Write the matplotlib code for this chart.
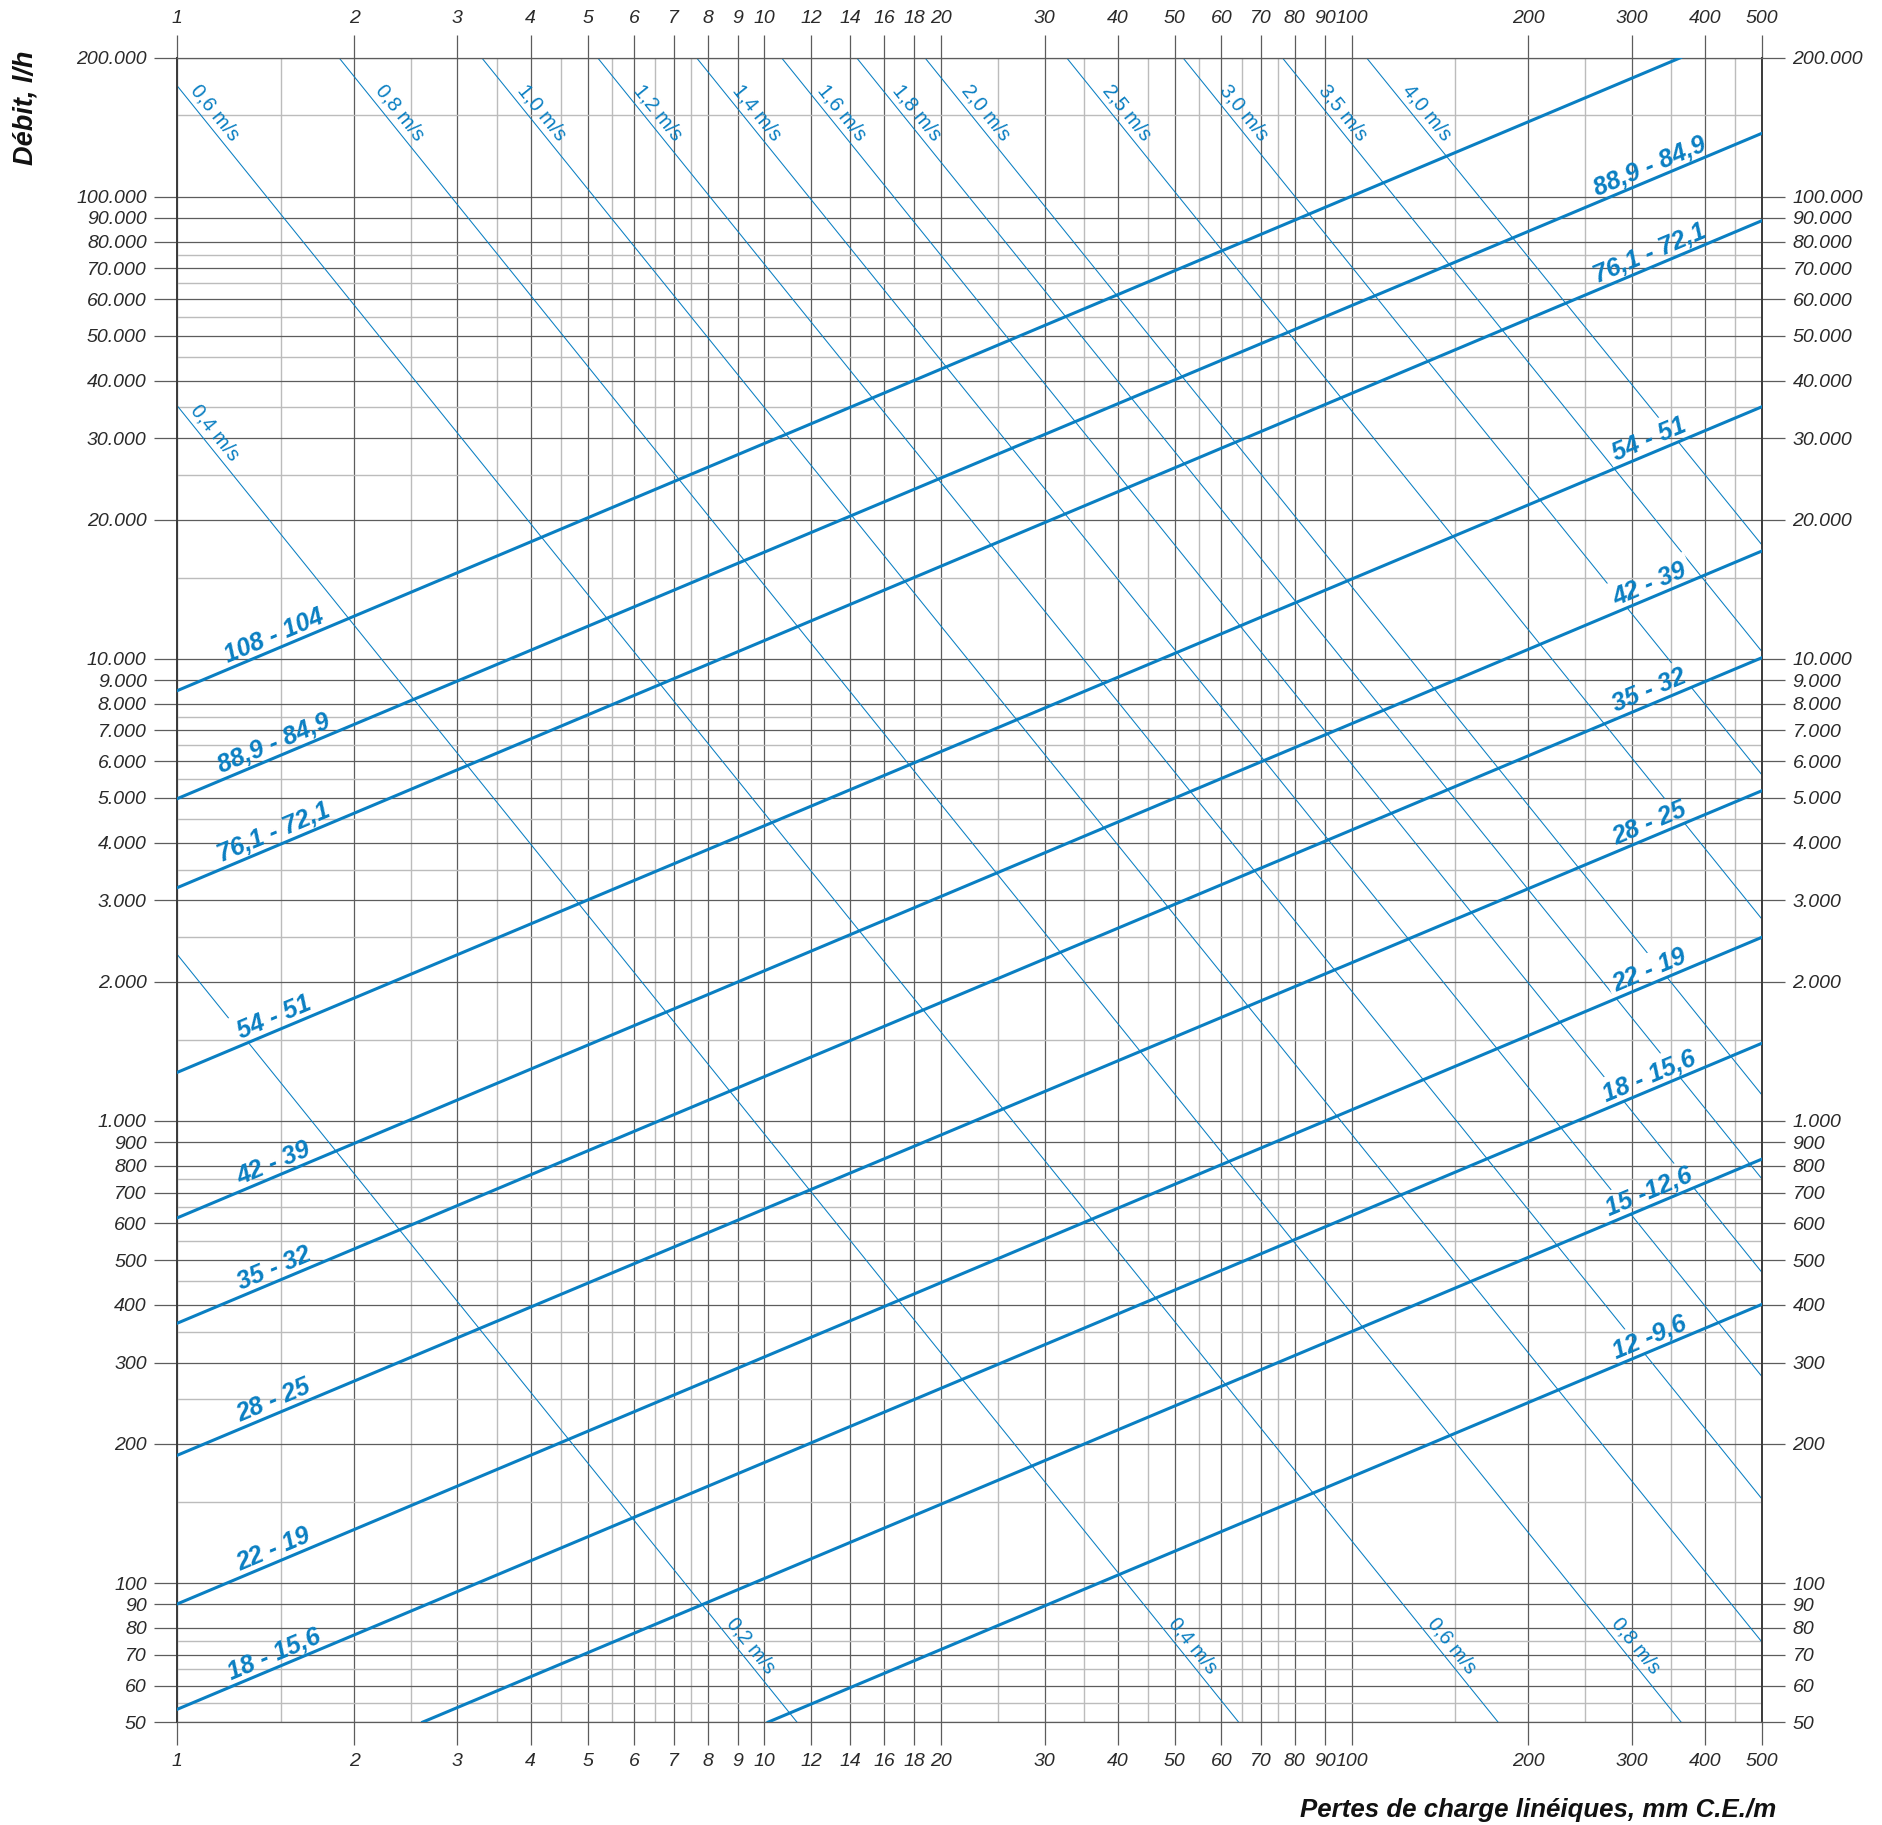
import math
import numpy as np
import matplotlib
matplotlib.use("Agg")
import matplotlib.pyplot as plt
from matplotlib import font_manager
from matplotlib.ticker import NullFormatter
from matplotlib.path import Path
from matplotlib.transforms import IdentityTransform

# Axis ticks: pressure loss (mm C.E./m) on x, flow (l/h) on y
x_major = [1, 2, 3, 4, 5, 6, 7, 8, 9, 10, 12, 14, 16, 18, 20, 30, 40, 50, 60, 70,
           80, 90, 100, 200, 300, 400, 500]
x_minor = [1.5, 2.5, 3.5, 4.5, 5.5, 6.5, 7.5, 25, 35, 45, 55, 65, 75,
           150, 250, 350, 450]
y_major = [50, 60, 70, 80, 90, 100, 200, 300, 400, 500, 600, 700, 800, 900,
           1000, 2000, 3000, 4000, 5000, 6000, 7000, 8000, 9000,
           10000, 20000, 30000, 40000, 50000, 60000, 70000, 80000, 90000,
           100000, 200000]
y_minor = [55, 65, 75, 150, 250, 350, 450, 550, 650, 750,
           1500, 2500, 3500, 4500, 5500, 6500, 7500,
           15000, 25000, 35000, 45000, 55000, 65000, 75000, 150000]

# Pipe sizes (outer - inner diameter, mm): flow at 1 and at 500 mm C.E./m
pipe_names = ["108 - 104", "88,9 - 84,9", "76,1 - 72,1", "54 - 51", "42 - 39",
              "35 - 32", "28 - 25", "22 - 19", "18 - 15,6", "15 -12,6", "12 -9,6"]
pipe_q1 = [8536, 4983, 3198, 1274, 617, 365, 189, 90.1, 53.3, 29.9, 14.5]
pipe_q500 = [237300, 137250, 88800, 35130, 17120, 10060, 5185, 2498, 1473, 827, 401]
pipe_label_left = [True, True, True, True, True, True, True, True, True, False, False]
pipe_label_right = [False, True, True, True, True, True, True, True, True, True, True]

# Velocity lines: entry and exit point (pressure loss, flow) of each line
vel_names = ["0,2 m/s", "0,4 m/s", "0,6 m/s", "0,8 m/s", "1,0 m/s", "1,2 m/s",
             "1,4 m/s", "1,6 m/s", "1,8 m/s", "2,0 m/s", "2,5 m/s", "3,0 m/s",
             "3,5 m/s", "4,0 m/s"]
vel_j_in = [1, 1, 1, 1.885, 3.299, 5.197, 7.66, 10.69, 14.35, 18.76, 32.7, 51.6, 76.2, 106.0]
vel_q_in = [2291, 35280, 173700, 200000, 200000, 200000, 200000, 200000, 200000,
            200000, 200000, 200000, 200000, 200000]
vel_j_out = [11.36, 64.2, 177.6, 364.1, 500, 500, 500, 500, 500, 500, 500, 500, 500, 500]
vel_q_out = [50, 50, 50, 50, 74.5, 152, 279.7, 470, 749, 1138, 2733, 5608, 10366, 17640]
# flow values along each line where its labels start
vel_label_q = [[80], [33700, 80], [166000, 80], [166000, 80]] + [[166000]] * 10

BLUE = "#0a7fc2"
MAJOR = "#5c5c5c"
MINOR = "#bcbcbc"

names = {f.name for f in font_manager.fontManager.ttflist}
if "Liberation Sans Narrow" in names:
    tick_font, tick_size = "Liberation Sans Narrow", 16
else:
    tick_font, tick_size = "Liberation Sans", 14

plt.rcParams["font.family"] = tick_font
plt.rcParams["font.style"] = "italic"

fig = plt.figure(figsize=(18.83, 18.25), dpi=100)
ax = fig.add_axes([0.09416, 0.05638, 0.84158, 0.912])
ax.set_xscale("log")
ax.set_yscale("log")
ax.set_xlim(1, 500)
ax.set_ylim(50, 200000)

ax.set_xticks(x_major, [str(v) for v in x_major])
ax.set_yticks(y_major, [f"{v:,}".replace(",", ".") for v in y_major])
ax.set_xticks(x_minor, minor=True)
ax.set_yticks(y_minor, minor=True)
ax.xaxis.set_minor_formatter(NullFormatter())
ax.yaxis.set_minor_formatter(NullFormatter())

ax.tick_params(axis="x", which="major", bottom=True, top=True, labelbottom=True,
               labeltop=True, length=16.5, width=0.9, color=MAJOR, pad=5.5,
               labelsize=tick_size, labelcolor="#2a2a2a")
ax.tick_params(axis="y", which="major", left=True, right=True, labelleft=True,
               labelright=True, length=16.5, width=0.9, color=MAJOR, pad=5.5,
               labelsize=tick_size, labelcolor="#2a2a2a")
ax.tick_params(which="minor", length=0)

ax.set_axisbelow(True)
ax.grid(which="major", color=MAJOR, lw=0.9)
ax.grid(which="minor", color=MINOR, lw=1.0)
for side in ("left", "right"):
    ax.spines[side].set_color("#3a3a3a")
    ax.spines[side].set_linewidth(1.4)
for side in ("top", "bottom"):
    ax.spines[side].set_color(MAJOR)
    ax.spines[side].set_linewidth(0.9)

# pipe lines (power laws are straight on log-log axes)
for q1, q500 in zip(pipe_q1, pipe_q500):
    ax.axline((1, q1), (500, q500), color=BLUE, lw=2.2, zorder=3)

vel_lines = []
for j0, q0, j1, q1 in zip(vel_j_in, vel_q_in, vel_j_out, vel_q_out):
    ln = ax.axline((j0, q0), (j1, q1), color=BLUE, lw=0.75, zorder=2.5)
    vel_lines.append(ln)


def disp_angle(p, q):
    a, b = ax.transData.transform([p, q])
    return math.atan2(b[1] - a[1], b[0] - a[0])


def offset_point(j, q, ang, gap):
    px, py = ax.transData.transform((j, q))
    px -= math.sin(ang) * gap
    py += math.cos(ang) * gap
    return px, py


# pipe labels sit just above their line
pipe_texts = []
for name, q1, q500, on_left, on_right in zip(pipe_names, pipe_q1, pipe_q500,
                                             pipe_label_left, pipe_label_right):
    ang = disp_angle((1, q1), (500, q500))
    spots = []
    if on_left:
        spots.append(1.49)
    if on_right:
        spots.append(328)
    for j in spots:
        q = 10 ** (math.log10(q1) + math.log10(j) / math.log10(500)
                   * (math.log10(q500) - math.log10(q1)))
        gap = 6
        px, py = offset_point(j, q, ang, gap)
        tx, ty = ax.transData.inverted().transform((px, py))
        t = ax.text(tx, ty, name, rotation=math.degrees(ang), rotation_mode="anchor",
                    ha="center", va="baseline", color=BLUE, fontsize=18,
                    fontweight="bold", fontstyle="italic", family="Liberation Sans",
                    zorder=4)
        pipe_texts.append((t, px, py, ang, gap))

# velocity labels run along the right side of each line
for name, j0, q0, j1, q1, qs in zip(vel_names, vel_j_in, vel_q_in, vel_j_out,
                                    vel_q_out, vel_label_q):
    ang = disp_angle((j0, q0), (j1, q1))
    for q in qs:
        t = (math.log10(q) - math.log10(q0)) / (math.log10(q1) - math.log10(q0))
        j = 10 ** (math.log10(j0) + t * (math.log10(j1) - math.log10(j0)))
        px, py = offset_point(j, q, ang, 7)
        tx, ty = ax.transData.inverted().transform((px, py))
        ax.text(tx, ty, name, rotation=math.degrees(ang), rotation_mode="anchor",
                ha="left", va="baseline", color=BLUE, fontsize=14.5,
                fontstyle="normal", family="Liberation Sans", zorder=4)

fig.text(26 / 1883, 1 - 107.5 / 1825, "Débit, l/h", rotation=90, ha="center",
         va="center", fontsize=19.5, fontweight="bold", fontstyle="italic",
         family="Liberation Sans", color="#111111")
fig.text(1776.5 / 1883, 1 - 1816.6 / 1825, "Pertes de charge linéiques, mm C.E./m",
         ha="right", va="baseline", fontsize=18.6, fontweight="bold",
         fontstyle="italic", family="Liberation Sans", color="#111111")

# cut the thin velocity lines where they run under a pipe label
fig.canvas.draw()
renderer = fig.canvas.get_renderer()
bx0, by0, bx1, by1 = ax.bbox.extents
verts = [(bx0, by0), (bx1, by0), (bx1, by1), (bx0, by1), (bx0, by0)]
codes = [Path.MOVETO, Path.LINETO, Path.LINETO, Path.LINETO, Path.CLOSEPOLY]
pad = 5
for t, px, py, ang, gap in pipe_texts:
    t.set_rotation(0)
    bb = t.get_window_extent(renderer)
    t.set_rotation(math.degrees(ang))
    rel = [(bb.x0 - px - pad, -gap), (bb.x0 - px - pad, bb.y1 - py + pad),
           (bb.x1 - px + pad, bb.y1 - py + pad), (bb.x1 - px + pad, -gap)]
    c, s = math.cos(ang), math.sin(ang)
    pts = [(px + c * u - s * v, py + s * u + c * v) for u, v in rel]
    verts += pts + [pts[0]]
    codes += [Path.MOVETO, Path.LINETO, Path.LINETO, Path.LINETO, Path.CLOSEPOLY]
clip = Path(verts, codes)
for ln in vel_lines:
    ln.set_clip_path(clip, IdentityTransform())

fig.savefig("out.png", dpi=100)
